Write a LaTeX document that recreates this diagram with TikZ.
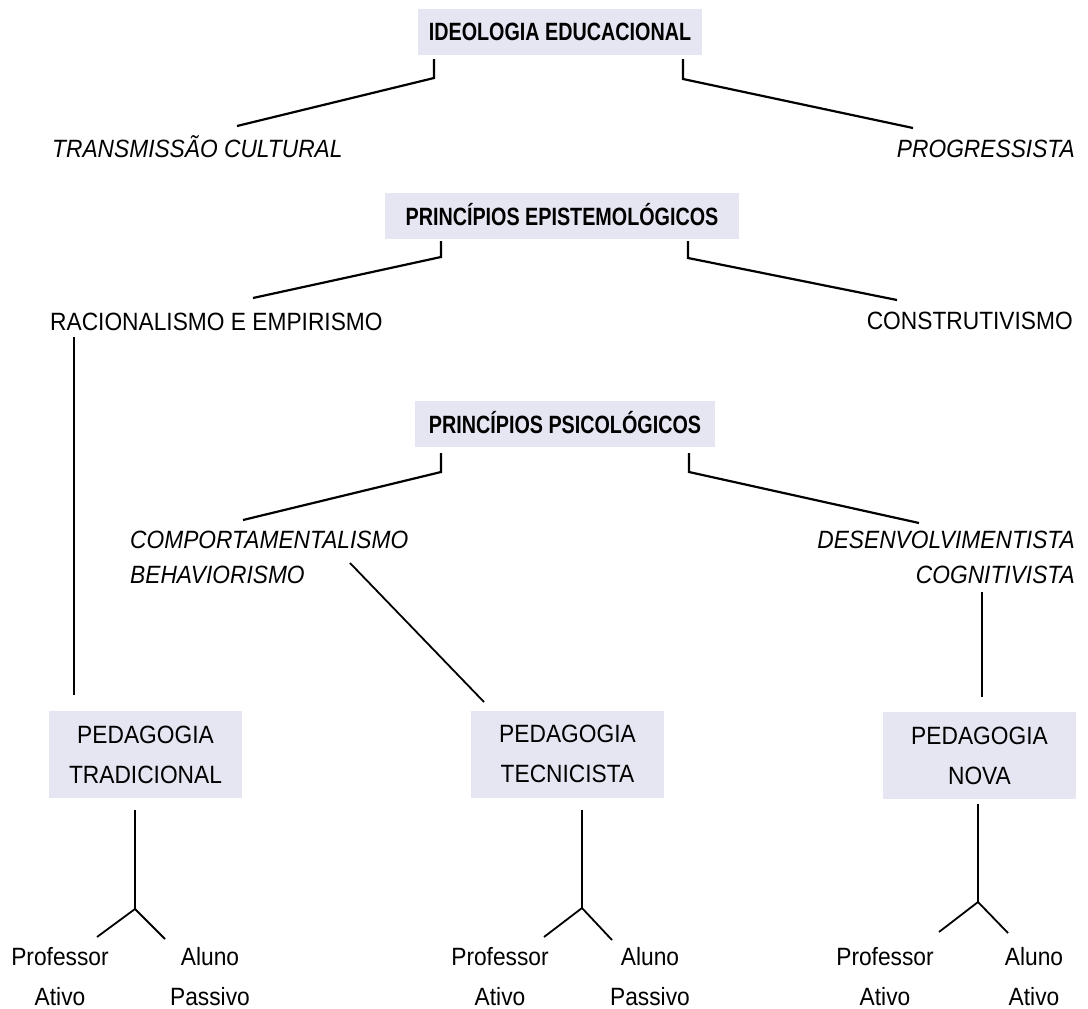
\documentclass[tikz,border=0pt]{standalone}
\usepackage{fontspec}
\setmainfont[FakeStretch=0.91]{Liberation Sans}
\newfontfamily\headfont[FakeStretch=0.79]{Liberation Sans}
\usepackage{xcolor}
\usepackage{tikz}
\definecolor{boxlilac}{RGB}{230, 230, 242}
\usetikzlibrary{positioning}

\begin{document}
\begin{tikzpicture}[
        x=1pt, y=-1pt,
        every node/.style={font=\fontsize{25}{40}\selectfont, inner sep=0pt},
        headbox/.style={rectangle, fill=boxlilac, minimum height=46pt, text height=18pt, text depth=0pt, font=\headfont\bfseries\fontsize{25}{30}\selectfont},
        pedbox/.style={rectangle, fill=boxlilac, minimum width=193pt, minimum height=87pt, align=center},
        topic/.style={font=\itshape\fontsize{25}{35}\selectfont},
        link/.style={line width=2.2pt},
        leg/.style={line width=1.8pt},
    ]

        % Page
        \useasboundingbox (0,0) rectangle (1088,1009);

        % Ideologia
        \node[headbox, minimum width=284pt] at (560,31.5) (ideo) {IDEOLOGIA EDUCACIONAL};
        \node[topic, anchor=base west] at (52,157) (transm) {TRANSMISSÃO CULTURAL};
        \node[topic, anchor=base east] at (1075,157) (progr) {PROGRESSISTA};

        % Principios epistemologicos
        \node[headbox, minimum width=354pt] at (562,216) (epist) {PRINCÍPIOS EPISTEMOLÓGICOS};
        \node[anchor=base west] at (50,330) (racio) {RACIONALISMO E EMPIRISMO};
        \node[anchor=base east] at (1073,329) (constr) {CONSTRUTIVISMO};

        % Principios psicologicos
        \node[headbox, minimum width=300pt] at (565,424) (psico) {PRINCÍPIOS PSICOLÓGICOS};
        \node[topic, anchor=north west, align=left] at (130,531) (compo) {COMPORTAMENTALISMO\\BEHAVIORISMO};
        \node[topic, anchor=north east, align=right] at (1075,531) (desenv) {DESENVOLVIMENTISTA\\COGNITIVISTA};

        % Pedagogias
        \node[pedbox] at (145.5,754.5) (trad) {PEDAGOGIA\\TRADICIONAL};
        \node[pedbox] at (567.5,754) (tecn) {PEDAGOGIA\\TECNICISTA};
        \node[pedbox] at (979.5,755.5) (nova) {PEDAGOGIA\\NOVA};

        % Professor / aluno
        \node[anchor=north, align=center] at (60,947) (tradprof) {Professor\\Ativo};
        \node[anchor=north, align=center] at (210,947) (tradaluno) {Aluno\\Passivo};
        \node[anchor=north, align=center] at (500,947) (tecnprof) {Professor\\Ativo};
        \node[anchor=north, align=center] at (650,947) (tecnaluno) {Aluno\\Passivo};
        \node[anchor=north, align=center] at (885,947) (novaprof) {Professor\\Ativo};
        \node[anchor=north, align=center] at (1034,947) (novaaluno) {Aluno\\Ativo};

        % Connector points
        \coordinate (ideoL) at (434,59);
        \coordinate (ideoLk) at (434,78);
        \coordinate (transmT) at (237,126);
        \coordinate (ideoR) at (683,59);
        \coordinate (ideoRk) at (683,79);
        \coordinate (progrT) at (913,128);
        \coordinate (epistL) at (441,241);
        \coordinate (epistLk) at (441,257);
        \coordinate (racioT) at (253,298);
        \coordinate (epistR) at (688,241);
        \coordinate (epistRk) at (688,258);
        \coordinate (constrT) at (897,300);
        \coordinate (psicoL) at (441,453);
        \coordinate (psicoLk) at (441,472);
        \coordinate (compoT) at (243,520);
        \coordinate (psicoR) at (689,453);
        \coordinate (psicoRk) at (689,472);
        \coordinate (desenvT) at (919,523);
        \coordinate (racioB) at (74,337);
        \coordinate (tradT) at (74,695);
        \coordinate (compoB) at (350,563);
        \coordinate (tecnT) at (484,702);
        \coordinate (desenvB) at (982,592);
        \coordinate (novaT) at (982,697);
        \coordinate (tradB) at (135,810);
        \coordinate (tradF) at (135,909);
        \coordinate (tradprofT) at (97,937);
        \coordinate (tradalunoT) at (165,939);
        \coordinate (tecnB) at (582,810);
        \coordinate (tecnF) at (582,908);
        \coordinate (tecnprofT) at (544,937);
        \coordinate (tecnalunoT) at (612,940);
        \coordinate (novaB) at (978,804);
        \coordinate (novaF) at (978,902);
        \coordinate (novaprofT) at (939,932);
        \coordinate (novaalunoT) at (1008,933);

        % Connectors
        \draw[link] (ideoL) -- (ideoLk) -- (transmT);
        \draw[link] (ideoR) -- (ideoRk) -- (progrT);
        \draw[link] (epistL) -- (epistLk) -- (racioT);
        \draw[link] (epistR) -- (epistRk) -- (constrT);
        \draw[link] (psicoL) -- (psicoLk) -- (compoT);
        \draw[link] (psicoR) -- (psicoRk) -- (desenvT);
        \draw[leg] (racioB) -- (tradT);
        \draw[leg] (compoB) -- (tecnT);
        \draw[leg] (desenvB) -- (novaT);
        \draw[leg] (tradB) -- (tradF) -- (tradprofT);
        \draw[leg] (tradF) -- (tradalunoT);
        \draw[leg] (tecnB) -- (tecnF) -- (tecnprofT);
        \draw[leg] (tecnF) -- (tecnalunoT);
        \draw[leg] (novaB) -- (novaF) -- (novaprofT);
        \draw[leg] (novaF) -- (novaalunoT);

    \end{tikzpicture}
\end{document}
